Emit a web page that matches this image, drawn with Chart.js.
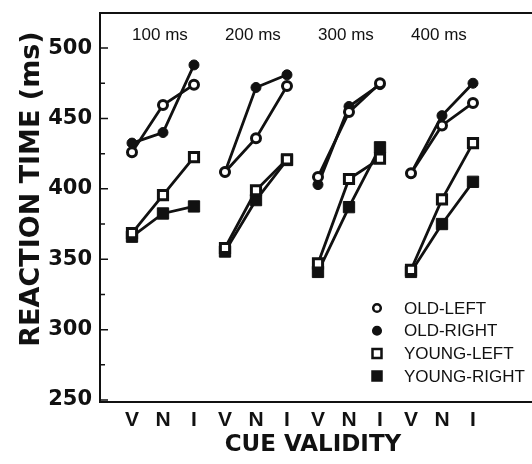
<!DOCTYPE html>
<html>
<head>
<meta charset="utf-8">
<script src="https://cdn.jsdelivr.net/npm/chart.js@4/dist/chart.umd.min.js"></script>
<style>
  html, body { margin: 0; padding: 0; background: #fff; }
  canvas { display: block; }
</style>
</head>
<body>
<canvas id="c" width="532" height="464"></canvas>
<script>
// ---- data ----
const cueLabels = ['V', 'N', 'I'];
const groupLabels = ['100 ms', '200 ms', '300 ms', '400 ms'];
const yTickValues = [250, 300, 350, 400, 450, 500];
const yMinorTickValues = [275, 325, 375, 425, 475];
const seriesNames = ['OLD-LEFT', 'OLD-RIGHT', 'YOUNG-LEFT', 'YOUNG-RIGHT'];
const oldLeft    = [426, 459.5, 474,   412, 436, 473,   408.5, 454.5, 475,   411, 445, 461];
const oldRight   = [432.5, 440, 488,   412, 472, 481,   403, 458.5, 474,     411, 452, 475];
const youngLeft  = [368.5, 395.5, 422.5, 358, 399, 421, 347, 407, 421.5,     342.5, 392.5, 432.5];
const youngRight = [366, 382.5, 387.5, 355.5, 392, 420.5, 341, 387, 429.5,   341, 375, 405];

const INK = '#111';

function toPoints(vals) {
  const pts = [];
  vals.forEach((v, i) => {
    pts.push({ x: i, y: v });
    if (i % 3 === 2 && i < vals.length - 1) pts.push({ x: i + 0.5, y: null });
  });
  return pts;
}

const styles = [
  { pointStyle: 'circle', pointRadius: 4.5, pointBackgroundColor: '#fff', pointBorderWidth: 3 },
  { pointStyle: 'circle', pointRadius: 5,   pointBackgroundColor: INK,    pointBorderWidth: 1 },
  { pointStyle: 'rect',   pointRadius: 6.5, pointBackgroundColor: '#fff', pointBorderWidth: 3 },
  { pointStyle: 'rect',   pointRadius: 8,   pointBackgroundColor: INK,    pointBorderWidth: 1 }
];
const seriesValues = [oldLeft, oldRight, youngLeft, youngRight];

const datasets = seriesValues.map((vals, k) => Object.assign({
  label: seriesNames[k],
  data: toPoints(vals),
  borderColor: INK,
  borderWidth: 2.8,
  pointBorderColor: INK,
  spanGaps: false,
  tension: 0
}, styles[k]));

const BOLD = "'DejaVu Sans', sans-serif";
const REG = "'Liberation Sans', Arial, sans-serif";

const decor = {
  id: 'decor',
  afterDraw(chart) {
    const { ctx, chartArea: a, scales: { x, y } } = chart;
    ctx.save();
    ctx.strokeStyle = INK;
    ctx.fillStyle = INK;
    // frame: left axis, top and bottom lines (open on the right)
    ctx.lineWidth = 2;
    ctx.beginPath();
    ctx.moveTo(chart.width, a.top);
    ctx.lineTo(a.left, a.top);
    ctx.lineTo(a.left, a.bottom);
    ctx.lineTo(chart.width, a.bottom);
    ctx.stroke();
    // inward ticks
    ctx.lineWidth = 1.5;
    ctx.beginPath();
    yTickValues.forEach(v => { const py = y.getPixelForValue(v); ctx.moveTo(a.left, py); ctx.lineTo(a.left + 8, py); });
    yMinorTickValues.forEach(v => { const py = y.getPixelForValue(v); ctx.moveTo(a.left, py); ctx.lineTo(a.left + 5, py); });
    ctx.stroke();
    // group labels
    ctx.font = "17px " + REG;
    ctx.textAlign = 'center';
    ctx.textBaseline = 'middle';
    groupLabels.forEach((g, i) => {
      ctx.fillText(g, x.getPixelForValue(i * 3 + 1) - 3, a.top + 22);
    });
    // axis titles
    ctx.font = "bold 23px " + BOLD;
    ctx.fillText('CUE VALIDITY', 313, 445);
    ctx.save();
    ctx.translate(32, 189);
    ctx.rotate(-Math.PI / 2);
    ctx.font = "bold 27px " + BOLD;
    ctx.fillText('REACTION TIME (ms)', 0, 0);
    ctx.restore();
    // legend
    const lx = 377, ltx = 404, ly0 = 308, ldy = 22.7;
    ctx.font = "17px " + REG;
    ctx.textAlign = 'left';
    chart.data.datasets.forEach((ds, k) => {
      const cy = ly0 + k * ldy;
      ctx.lineWidth = 2.5;
      ctx.fillStyle = ds.pointBackgroundColor;
      ctx.strokeStyle = INK;
      if (ds.pointStyle === 'circle') {
        ctx.beginPath(); ctx.arc(lx, cy, 3.8, 0, Math.PI * 2); ctx.fill(); ctx.stroke();
      } else {
        ctx.beginPath(); ctx.rect(lx - 4.5, cy - 4.5, 9, 9); ctx.fill(); ctx.stroke();
      }
      ctx.fillStyle = INK;
      ctx.fillText(ds.label, ltx, cy + 1);
    });
    ctx.restore();
  }
};

new Chart(document.getElementById('c'), {
  type: 'line',
  data: { datasets },
  options: {
    responsive: false,
    animation: false,
    layout: { padding: { top: 13, right: 0, left: 0, bottom: 0 } },
    plugins: { legend: { display: false }, tooltip: { enabled: false } },
    scales: {
      x: {
        type: 'linear',
        min: -1.032,
        max: 12.597,
        grid: { display: false, drawTicks: false },
        border: { display: false },
        afterBuildTicks: s => { s.ticks = Array.from({ length: oldLeft.length }, (_, i) => ({ value: i })); },
        afterFit: s => { s.height = 62; s.paddingLeft = 0; s.paddingRight = 0; },
        ticks: {
          padding: 6,
          color: INK,
          font: { family: REG, weight: 'bold', size: 21 },
          maxRotation: 0,
          autoSkip: false,
          callback: v => cueLabels[v % 3]
        }
      },
      y: {
        min: 248.6,
        max: 524.9,
        grid: { display: false, drawTicks: false },
        border: { display: false },
        afterBuildTicks: s => { s.ticks = yTickValues.map(v => ({ value: v })); },
        afterFit: s => { s.width = 100; s.paddingTop = 0; s.paddingBottom = 0; },
        ticks: {
          padding: 8,
          color: INK,
          font: { family: BOLD, weight: 'bold', size: 21 }
        }
      }
    }
  },
  plugins: [decor]
});
</script>
</body>
</html>
